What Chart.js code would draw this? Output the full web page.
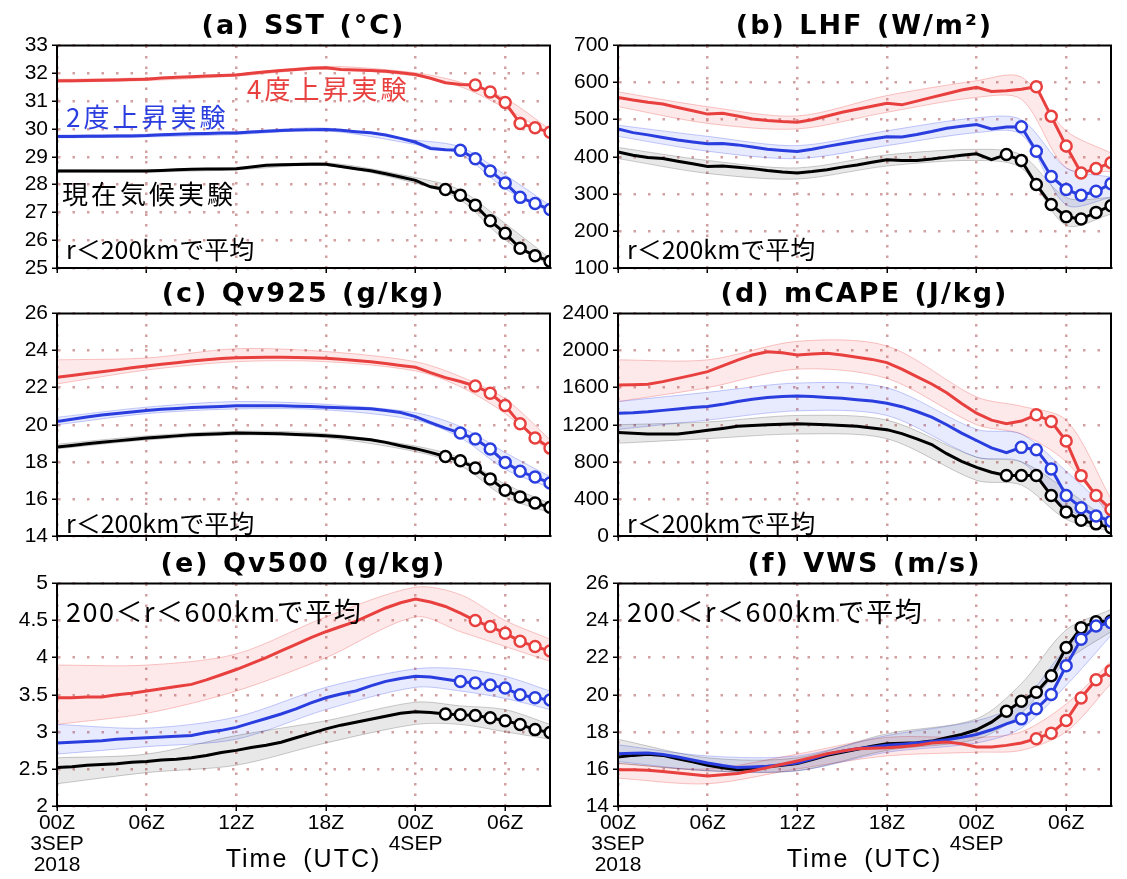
<!DOCTYPE html>
<html>
<head>
<meta charset="utf-8">
<script src="https://cdn.jsdelivr.net/npm/chart.js@4.4.1/dist/chart.umd.min.js"></script>
<style>
  body { margin: 0; background: #fff; width: 1127px; height: 879px; position: relative; overflow: hidden; }
  .panel { position: absolute; }
  .title { position: absolute; width: 493px; text-align: center; font-family: "DejaVu Sans", sans-serif; font-weight: bold;
           font-size: 27px; line-height: 30px; letter-spacing: 2px; word-spacing: 2px; white-space: nowrap; }
  .note { position: absolute; font-family: "Noto Sans CJK JP", sans-serif; line-height: 1; white-space: nowrap; }
  .exp { position: absolute; font-family: "Noto Sans CJK JP", sans-serif; font-size: 26px; line-height: 1; letter-spacing: 3px; white-space: nowrap; }
  .xlab { position: absolute; width: 493px; text-align: center; font-family: "Liberation Sans", Arial, sans-serif; font-size: 25px;
          line-height: 24px; letter-spacing: 2px; word-spacing: 6px; }
</style>
</head>
<body>
<script>
// time axis (hours from 00Z 3 SEP 2018)
const hours = [0,1,2,3,4,5,6,7,8,9,10,11,12,13,14,15,16,17,18,19,20,21,22,23,24,25,26,27,28,29,30,31,32,33];
const knotHours = [0, 6, 12, 18, 24, 27, 30, 33];
const tickHours = [0, 6, 12, 18, 24, 30];
const tickLabels = [['00Z', '3SEP', '2018'], '06Z', '12Z', '18Z', ['00Z', '4SEP'], '06Z'];

// experiments: 現在気候, 2度上昇, 4度上昇
const expNames = ['現在気候実験', '2度上昇実験', '4度上昇実験'];
const markerFrom = [26, 27, 28];

// (a) SST
const sstBlack = [28.49,28.49,28.49,28.49,28.49,28.49,28.49,28.51,28.53,28.55,28.56,28.56,28.57,28.63,28.69,28.71,28.72,28.73,28.73,28.65,28.57,28.5,28.39,28.27,28.15,27.92,27.82,27.62,27.26,26.7,26.25,25.71,25.44,25.24];
const sstBlue = [29.73,29.73,29.74,29.74,29.75,29.75,29.76,29.79,29.81,29.83,29.84,29.85,29.85,29.89,29.92,29.94,29.96,29.97,29.98,29.95,29.9,29.86,29.78,29.66,29.52,29.3,29.25,29.23,28.93,28.49,28.06,27.54,27.32,27.1];
const sstRed = [31.73,31.73,31.74,31.75,31.76,31.78,31.79,31.83,31.86,31.88,31.9,31.92,31.94,32.0,32.06,32.1,32.14,32.18,32.2,32.14,32.12,32.1,32.07,32.02,31.96,31.82,31.66,31.6,31.58,31.33,30.95,30.2,30.04,29.88];
const sstBlackLo = [28.45,28.45,28.53,28.68,28.05,27.45,26.0,25.1];
const sstBlackHi = [28.53,28.53,28.62,28.78,28.25,27.8,26.6,25.35];
const sstBlueLo = [29.68,29.71,29.8,29.93,29.44,29.1,27.85,27.0];
const sstBlueHi = [29.78,29.81,29.9,30.03,29.6,29.35,28.35,27.25];
const sstRedLo = [31.68,31.74,31.9,32.15,31.9,31.52,30.75,29.8];
const sstRedHi = [31.78,31.84,31.98,32.25,32.02,31.68,31.1,29.98];

// (b) LHF
const lhfBlack = [413,404,398,395,388,381,374,375,372,368,363,359,356,360,365,372,378,385,392,390,390,394,399,404,408,392,406,390,325,271,238,232,250,268];
const lhfBlue = [475,465,459,452,445,440,435,436,432,426,420,417,414,420,428,435,442,448,454,453,460,468,477,482,487,475,480,481,415,347,312,296,307,327];
const lhfRed = [560,553,547,542,533,524,515,517,510,502,498,495,493,500,510,520,528,536,544,540,550,560,570,580,587,576,578,582,589,509,429,356,368,384];
const lhfBlackLo = [395,355,340,375,390,370,215,245];
const lhfBlackHi = [425,390,370,405,420,405,290,290];
const lhfBlueLo = [455,415,395,430,465,460,270,290];
const lhfBlueHi = [485,455,430,470,505,500,370,345];
const lhfRedLo = [535,490,475,520,560,555,370,360];
const lhfRedHi = [575,535,510,565,605,615,470,410];

// (c) Qv925
const q925Black = [18.8,18.88,18.97,19.05,19.13,19.2,19.28,19.34,19.4,19.46,19.49,19.52,19.55,19.54,19.53,19.51,19.48,19.45,19.41,19.35,19.27,19.19,19.05,18.87,18.71,18.51,18.29,18.06,17.67,17.08,16.47,16.11,15.78,15.55];
const q925Blue = [20.18,20.3,20.42,20.53,20.61,20.69,20.77,20.83,20.88,20.93,20.96,20.99,21.02,21.02,21.02,21.02,21.0,20.98,20.95,20.92,20.89,20.86,20.77,20.66,20.44,20.12,19.82,19.55,19.23,18.69,17.97,17.49,17.18,16.86];
const q925Red = [22.56,22.66,22.76,22.86,22.96,23.07,23.17,23.26,23.35,23.44,23.5,23.57,23.62,23.63,23.64,23.64,23.63,23.61,23.58,23.53,23.47,23.4,23.3,23.2,23.1,22.81,22.54,22.33,22.09,21.7,21.04,20.05,19.28,18.74];
const q925BlackLo = [18.7,19.18,19.45,19.3,18.55,17.8,16.1,15.25];
const q925BlackHi = [18.95,19.4,19.65,19.52,18.85,18.2,16.8,15.75];
const q925BlueLo = [20.0,20.6,20.85,20.8,20.25,19.3,17.6,16.6];
const q925BlueHi = [20.4,20.95,21.25,21.1,20.65,19.9,18.5,17.2];
const q925RedLo = [22.2,22.95,23.4,23.4,22.9,22.05,20.6,18.5];
const q925RedHi = [23.5,23.6,24.1,23.95,23.4,22.6,21.4,19.2];

// (d) mCAPE
const capeBlack = [1117,1108,1100,1100,1100,1120,1140,1160,1183,1192,1201,1206,1211,1206,1201,1192,1183,1165,1147,1104,1047,986,888,806,741,688,652,652,652,436,260,170,131,88];
const capeBlue = [1325,1330,1340,1355,1370,1385,1396,1420,1450,1475,1495,1505,1510,1505,1495,1486,1470,1455,1432,1395,1343,1282,1200,1110,1030,950,900,956,931,724,436,305,215,160];
const capeRed = [1630,1632,1637,1665,1700,1735,1773,1835,1898,1952,1988,1977,1952,1963,1970,1952,1927,1905,1870,1800,1720,1640,1545,1430,1325,1250,1212,1240,1307,1235,1024,651,436,285];
const capeBlackLo = [1000,1050,1100,1050,600,550,180,50];
const capeBlackHi = [1200,1230,1300,1250,850,800,500,150];
const capeBlueLo = [1150,1250,1350,1300,850,800,300,100];
const capeBlueHi = [1450,1550,1650,1600,1150,1100,700,250];
const capeRedLo = [1450,1600,1800,1700,1200,1100,800,200];
const capeRedHi = [1900,1900,2100,2050,1500,1400,1250,400];

// (e) Qv500
const q500Black = [2.52,2.53,2.55,2.56,2.57,2.59,2.6,2.62,2.63,2.65,2.68,2.72,2.75,2.79,2.82,2.86,2.92,2.98,3.04,3.09,3.13,3.17,3.21,3.25,3.27,3.26,3.24,3.23,3.22,3.19,3.15,3.1,3.03,2.99];
const q500Blue = [2.85,2.86,2.87,2.88,2.9,2.91,2.92,2.93,2.94,2.95,2.99,3.02,3.06,3.12,3.18,3.24,3.31,3.39,3.46,3.51,3.55,3.62,3.68,3.72,3.75,3.74,3.71,3.68,3.66,3.63,3.59,3.5,3.46,3.43];
const q500Red = [3.46,3.46,3.47,3.47,3.5,3.52,3.55,3.58,3.61,3.64,3.7,3.77,3.84,3.92,4.0,4.09,4.18,4.27,4.35,4.42,4.49,4.58,4.67,4.74,4.79,4.75,4.69,4.6,4.5,4.42,4.33,4.22,4.15,4.09];
const q500BlackLo = [2.3,2.45,2.55,2.85,3.1,3.1,3.0,2.9];
const q500BlackHi = [2.65,2.7,2.95,3.15,3.4,3.35,3.3,3.1];
const q500BlueLo = [2.7,2.8,2.9,3.3,3.6,3.55,3.45,3.3];
const q500BlueHi = [3.1,3.05,3.2,3.6,3.85,3.85,3.75,3.55];
const q500RedLo = [3.1,3.25,3.55,4.0,4.55,4.35,4.15,3.95];
const q500RedHi = [3.9,3.9,4.05,4.55,4.95,4.85,4.5,4.25];

// (f) VWS
const vwsBlack = [16.64,16.73,16.79,16.73,16.55,16.38,16.2,16.06,15.96,16.02,16.11,16.2,16.29,16.5,16.73,16.9,17.06,17.22,17.36,17.38,17.41,17.5,17.68,17.86,18.11,18.52,19.11,19.65,20.13,21.03,22.55,23.62,23.94,23.98];
const vwsBlue = [16.82,16.85,16.86,16.78,16.64,16.48,16.32,16.18,16.07,16.1,16.14,16.23,16.32,16.55,16.79,16.95,17.09,17.18,17.27,17.33,17.4,17.48,17.57,17.7,17.86,18.11,18.43,18.7,19.24,20.01,21.56,23.0,23.71,23.89];
const vwsRed = [15.96,15.95,15.93,15.86,15.78,15.7,15.62,15.68,15.75,15.9,16.07,16.25,16.43,16.62,16.82,16.96,17.09,17.12,17.14,17.2,17.27,17.4,17.45,17.36,17.18,17.18,17.27,17.4,17.63,17.93,18.61,19.83,20.81,21.3];
const vwsBlackLo = [16.3,15.9,15.9,17.0,17.6,19.0,21.8,23.4];
const vwsBlackHi = [17.6,16.6,16.6,17.9,18.7,20.6,23.5,24.6];
const vwsBlueLo = [16.4,15.9,15.9,16.9,17.4,18.2,20.5,23.2];
const vwsBlueHi = [17.3,16.7,16.7,17.8,18.6,19.6,22.5,24.4];
const vwsRedLo = [15.5,15.2,16.0,16.7,16.9,17.0,18.0,20.6];
const vwsRedHi = [16.3,16.0,16.8,17.7,17.7,18.0,19.5,21.8];

const panels = [
    { title: '(a) SST (°C)', min: 25, max: 33, step: 1, note: 'r＜200kmで平均',
      mean: [sstBlack, sstBlue, sstRed], lo: [sstBlackLo, sstBlueLo, sstRedLo], hi: [sstBlackHi, sstBlueHi, sstRedHi] },
    { title: '(b) LHF (W/m²)', min: 100, max: 700, step: 100, note: 'r＜200kmで平均',
      mean: [lhfBlack, lhfBlue, lhfRed], lo: [lhfBlackLo, lhfBlueLo, lhfRedLo], hi: [lhfBlackHi, lhfBlueHi, lhfRedHi] },
    { title: '(c) Qv925 (g/kg)', min: 14, max: 26, step: 2, note: 'r＜200kmで平均',
      mean: [q925Black, q925Blue, q925Red], lo: [q925BlackLo, q925BlueLo, q925RedLo], hi: [q925BlackHi, q925BlueHi, q925RedHi] },
    { title: '(d) mCAPE (J/kg)', min: 0, max: 2400, step: 400, note: 'r＜200kmで平均',
      mean: [capeBlack, capeBlue, capeRed], lo: [capeBlackLo, capeBlueLo, capeRedLo], hi: [capeBlackHi, capeBlueHi, capeRedHi] },
    { title: '(e) Qv500 (g/kg)', min: 2, max: 5, step: 0.5, note: '200＜r＜600kmで平均',
      mean: [q500Black, q500Blue, q500Red], lo: [q500BlackLo, q500BlueLo, q500RedLo], hi: [q500BlackHi, q500BlueHi, q500RedHi] },
    { title: '(f) VWS (m/s)', min: 14, max: 26, step: 2, note: '200＜r＜600kmで平均',
      mean: [vwsBlack, vwsBlue, vwsRed], lo: [vwsBlackLo, vwsBlueLo, vwsRedLo], hi: [vwsBlackHi, vwsBlueHi, vwsRedHi] }
];

// layout
const COL_X = [57, 618];
const ROW_Y = [45, 313, 583];
const NOTE_TOP = [236, 510, 597];
const PLOT_W = 493, PLOT_H = 223, Y_AXIS_W = 57, PAD_TOP = 14, PAD_RIGHT = 10;

const lineColors = ['#000000', '#2a3ee0', '#e8403f'];
const bandFill = ['rgba(0,0,0,0.09)', 'rgba(50,70,235,0.11)', 'rgba(235,70,70,0.12)'];
const bandEdge = ['rgba(0,0,0,0.2)', 'rgba(50,70,235,0.28)', 'rgba(235,70,70,0.3)'];
const gridColor = 'rgb(210,160,160)';
const tickFont = { family: '"Liberation Sans", Arial, sans-serif', size: 21, lineHeight: 1 };

function pts(xs, ys) {
    return xs.map((x, i) => ({ x: x, y: ys[i] }));
}

// black frame round the plot area
const framePlugin = {
    id: 'frame',
    afterDatasetsDraw(chart) {
        const { ctx, chartArea: a } = chart;
        ctx.save();
        ctx.strokeStyle = '#000';
        ctx.lineWidth = 2;
        ctx.strokeRect(a.left, a.top, a.right - a.left, a.bottom - a.top);
        ctx.restore();
    }
};

panels.forEach(function(p, n) {
    const col = n % 2, row = Math.floor(n / 2);
    const bottomRow = row === 2;
    const axisH = bottomRow ? 75 : 8;
    const padBottom = bottomRow ? 2 : 8;
    const left = COL_X[col] - Y_AXIS_W, top = ROW_Y[row] - PAD_TOP;

    const wrap = document.createElement('div');
    wrap.className = 'panel';
    wrap.style.left = left + 'px';
    wrap.style.top = top + 'px';
    const canvas = document.createElement('canvas');
    canvas.width = Y_AXIS_W + PLOT_W + PAD_RIGHT;
    canvas.height = PAD_TOP + PLOT_H + axisH + padBottom;
    wrap.appendChild(canvas);
    document.body.appendChild(wrap);

    const datasets = [];
    // ensemble spread (behind)
    for (let k = 0; k < 3; k++) {
        datasets.push({ data: pts(knotHours, p.lo[k]), borderColor: bandEdge[k], borderWidth: 1,
                        pointRadius: 0, fill: false, order: 10 + k, tension: 0.3 });
        datasets.push({ data: pts(knotHours, p.hi[k]), borderColor: bandEdge[k], borderWidth: 1,
                        backgroundColor: bandFill[k], pointRadius: 0, fill: '-1', order: 10 + k, tension: 0.3 });
    }
    // experiment means
    for (let k = 0; k < 3; k++) {
        datasets.push({
            data: pts(hours, p.mean[k]),
            borderColor: lineColors[k],
            borderWidth: 3,
            fill: false,
            order: 2 - k,
            pointRadius: ctx => ctx.dataIndex >= markerFrom[k] ? 5.5 : 0,
            pointBackgroundColor: '#fff',
            pointBorderColor: lineColors[k],
            pointBorderWidth: 2.5
        });
    }

    new Chart(canvas, {
        type: 'line',
        data: { datasets: datasets },
        options: {
            responsive: false,
            animation: false,
            layout: { padding: { left: 0, right: PAD_RIGHT, top: PAD_TOP, bottom: padBottom } },
            plugins: { legend: { display: false }, tooltip: { enabled: false } },
            scales: {
                x: {
                    type: 'linear', min: 0, max: 33,
                    afterFit: s => { s.height = axisH; },
                    ticks: {
                        stepSize: 6, includeBounds: false, display: bottomRow, autoSkip: false, maxRotation: 0,
                        padding: 2, color: '#000', font: tickFont,
                        callback: v => { const i = tickHours.indexOf(v); return i < 0 ? '' : tickLabels[i]; }
                    },
                    grid: { color: gridColor, lineWidth: 2.5, tickColor: '#000', tickLength: 5, tickWidth: 1.5, tickBorderDash: [] },
                    border: { display: true, color: '#000', width: 2, dash: [2.5, 8] }
                },
                y: {
                    min: p.min, max: p.max,
                    afterFit: s => { s.width = Y_AXIS_W; },
                    ticks: { stepSize: p.step, padding: 4, color: '#000', font: tickFont, callback: v => String(v) },
                    grid: { color: gridColor, lineWidth: 2.5, tickColor: '#000', tickLength: 5, tickWidth: 1.5, tickBorderDash: [] },
                    border: { display: true, color: '#000', width: 2, dash: [2.5, 12] }
                }
            }
        },
        plugins: [framePlugin]
    });

    const t = document.createElement('div');
    t.className = 'title';
    t.textContent = p.title;
    t.style.left = COL_X[col] + 'px';
    t.style.top = (ROW_Y[row] - 35) + 'px';
    document.body.appendChild(t);

    const note = document.createElement('div');
    note.className = 'note';
    note.textContent = p.note;
    note.style.left = (COL_X[col] + 9) + 'px';
    note.style.top = NOTE_TOP[row] + 'px';
    note.style.fontSize = bottomRow ? '27px' : '25px';
    note.style.letterSpacing = bottomRow ? '1.5px' : '0px';
    document.body.appendChild(note);

    if (bottomRow) {
        const xl = document.createElement('div');
        xl.className = 'xlab';
        xl.textContent = 'Time (UTC)';
        xl.style.left = COL_X[col] + 'px';
        xl.style.top = '846px';
        document.body.appendChild(xl);
    }
});

// experiment labels in panel (a)
const expPos = [[62, 180], [66, 103], [247, 75]];
expNames.forEach(function(name, k) {
    const d = document.createElement('div');
    d.className = 'exp';
    d.textContent = name;
    d.style.color = lineColors[k];
    d.style.left = expPos[k][0] + 'px';
    d.style.top = expPos[k][1] + 'px';
    document.body.appendChild(d);
});
</script>
</body>
</html>
